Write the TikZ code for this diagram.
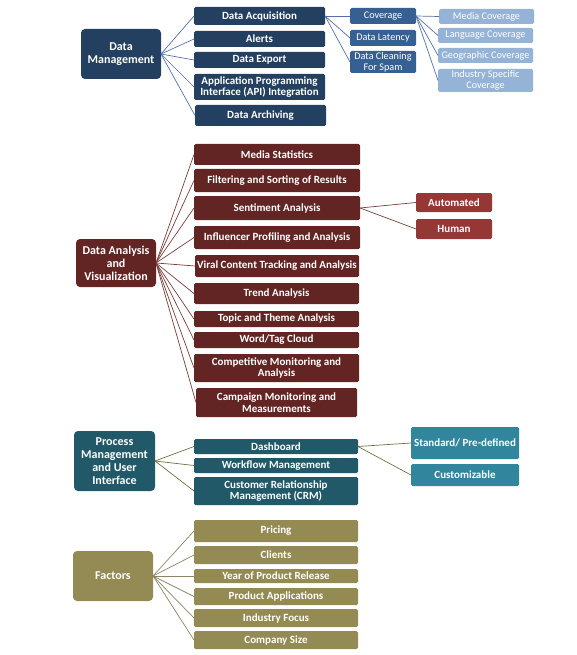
\documentclass[tikz,border=0pt]{standalone}
\usepackage{fontspec}
\setmainfont{Carlito}
\definecolor{dmA}{RGB}{36,64,97}
\definecolor{dmB}{RGB}{54,96,146}
\definecolor{dmC}{RGB}{149,179,215}
\definecolor{dmL}{RGB}{84,112,170}
\definecolor{daA}{RGB}{99,37,35}
\definecolor{daB}{RGB}{149,55,53}
\definecolor{daL}{RGB}{120,62,60}
\definecolor{pmA}{RGB}{33,89,104}
\definecolor{pmB}{RGB}{49,133,156}
\definecolor{pmL}{RGB}{112,112,66}
\definecolor{faA}{RGB}{148,138,84}
\definecolor{faL}{RGB}{140,132,102}
\newcommand\bx[7]{\node[#2, minimum width={(#5-#3)*1pt}, minimum height={(#6-#4)*1pt}] (#1) at ({(#3+#5)/2},{(#4+#6)/2}) {#7};}
\tikzset{
  base/.style={inner sep=0pt, outer sep=0pt, align=center, text=white},
  mainbox/.style={base, rounded corners=4pt, font=\fontsize{12}{13}\selectfont\bfseries},
  subbox/.style={base, rounded corners=1.5pt, font=\fontsize{11}{11.8}\selectfont\bfseries},
  thinbox/.style={base, rounded corners=1.5pt, font=\fontsize{10.2}{11}\selectfont},
  dmmain/.style={mainbox, fill=dmA},
  dmsub/.style={subbox, fill=dmA},
  dmsec/.style={thinbox, fill=dmB},
  dmthr/.style={thinbox, fill=dmC},
  damain/.style={mainbox, fill=daA},
  dasub/.style={subbox, fill=daA},
  dasec/.style={subbox, fill=daB},
  pmmain/.style={mainbox, fill=pmA},
  pmsub/.style={subbox, fill=pmA},
  pmsec/.style={subbox, fill=pmB},
  famain/.style={mainbox, fill=faA},
  fasub/.style={subbox, fill=faA},
  dmline/.style={draw=dmL, line width=0.7pt},
  daline/.style={draw=daL, line width=0.7pt},
  pmline/.style={draw=pmL, line width=0.7pt},
  faline/.style={draw=faL, line width=0.7pt},
}
\begin{document}
\begin{tikzpicture}[x=1pt,y=-1pt]
\useasboundingbox (0,0) rectangle (576,655);
% Data Management
\bx{dm}{dmmain}{81}{29}{161}{79}{Data\\Management}
\bx{acq}{dmsub}{194}{7}{325}{25}{Data Acquisition}
\bx{alerts}{dmsub}{194}{31}{325}{47}{Alerts}
\bx{export}{dmsub}{194}{52}{325}{68}{Data Export}
\bx{api}{dmsub}{194}{74}{325}{100}{Application Programming\\Interface (API) Integration}
\bx{arch}{dmsub}{195}{105}{326}{126}{Data Archiving}
\bx{cov}{dmsec}{350}{8}{416}{24}{Coverage}
\bx{lat}{dmsec}{350}{30}{416}{46}{Data Latency}
\bx{clean}{dmsec}{350}{51}{416}{73}{Data Cleaning\\For Spam}
\bx{media}{dmthr}{439}{9}{534}{24}{Media Coverage}
\bx{lang}{dmthr}{438}{28}{533}{43}{Language Coverage}
\bx{geo}{dmthr}{438}{48}{533}{63}{Geographic Coverage}
\bx{ind}{dmthr}{438}{69}{533}{92}{Industry Specific\\Coverage}
\foreach \c in {acq,alerts,export,api,arch} \draw[dmline] (dm.east) -- (\c.west);
\foreach \c in {cov,lat,clean} \draw[dmline] (acq.east) -- (\c.west);
\foreach \c in {media,lang,geo,ind} \draw[dmline] (cov.east) -- (\c.west);
% Data Analysis
\bx{da}{damain}{76}{239}{156}{287}{Data Analysis\\and\\Visualization}
\bx{mstat}{dasub}{194}{144}{360}{165}{Media Statistics}
\bx{filt}{dasub}{194}{169}{360}{192}{Filtering and Sorting of Results}
\bx{sent}{dasub}{194}{196}{360}{220}{Sentiment Analysis}
\bx{infl}{dasub}{194}{226}{360}{249}{Influencer Profiling and Analysis}
\bx{viral}{dasub}{195}{255}{359}{277}{Viral Content Tracking and Analysis}
\bx{trend}{dasub}{194}{283}{359}{304}{Trend Analysis}
\bx{topic}{dasub}{194}{311}{359}{327}{Topic and Theme Analysis}
\bx{word}{dasub}{194}{332}{359}{348}{Word/Tag Cloud}
\bx{comp}{dasub}{194}{354}{359}{382}{Competitive Monitoring and\\Analysis}
\bx{camp}{dasub}{196}{388}{357}{417}{Campaign Monitoring and\\Measurements}
\bx{auto}{dasec}{416}{193}{492}{212}{Automated}
\bx{human}{dasec}{416}{219}{492}{239}{Human}
\foreach \c in {mstat,filt,sent,infl,viral,trend,topic,word,comp,camp} \draw[daline] (da.east) -- (\c.west);
\foreach \c in {auto,human} \draw[daline] (sent.east) -- (\c.west);
% Process Management
\bx{pm}{pmmain}{74}{431}{155}{491}{Process\\Management\\and User\\Interface}
\bx{dash}{pmsub}{194}{439}{358}{454}{Dashboard}
\bx{work}{pmsub}{194}{458}{358}{473}{Workflow Management}
\bx{crm}{pmsub}{194}{477}{358}{505}{Customer Relationship\\Management (CRM)}
\bx{std}{pmsec}{411}{427}{519}{459}{Standard/ Pre-defined}
\bx{cust}{pmsec}{411}{464}{519}{486}{Customizable}
\foreach \c in {dash,work,crm} \draw[pmline] (pm.east) -- (\c.west);
\foreach \c in {std,cust} \draw[pmline] (dash.east) -- (\c.west);
% Factors
\bx{fa}{famain}{73}{551}{153}{601}{Factors}
\bx{price}{fasub}{194}{520}{358}{542}{Pricing}
\bx{cli}{fasub}{194}{546}{358}{564}{Clients}
\bx{year}{fasub}{194}{569}{358}{583}{Year of Product Release}
\bx{papp}{fasub}{194}{588}{358}{605}{Product Applications}
\bx{ifoc}{fasub}{194}{609}{358}{627}{Industry Focus}
\bx{csize}{fasub}{194}{631}{358}{649}{Company Size}
\foreach \c in {price,cli,year,papp,ifoc,csize} \draw[faline] (fa.east) -- (\c.west);
\end{tikzpicture}
\end{document}
